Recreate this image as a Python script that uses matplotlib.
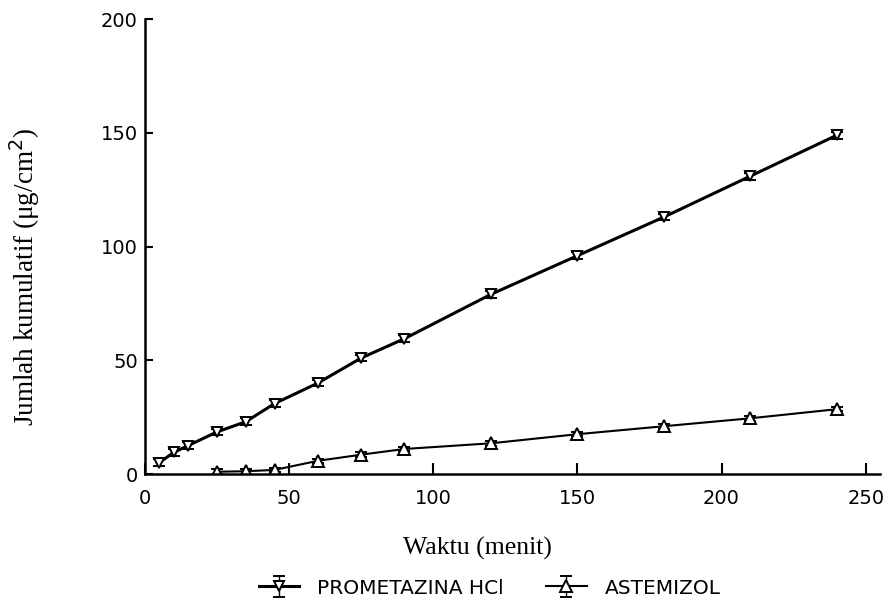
import matplotlib
matplotlib.use("Agg")
import matplotlib.pyplot as plt

# ── data ────────────────────────────────────────────────────────────────────
waktu_prom = [5, 10, 15, 25, 35, 45, 60, 75, 90, 120, 150, 180, 210, 240]
jumlah_prom = [5.0, 9.5, 12.5, 18.5, 23.0, 31.0, 40.0, 51.0, 59.5, 79.0, 96.0, 113.0, 131.0, 149.0]

waktu_aste = [25, 35, 45, 60, 75, 90, 120, 150, 180, 210, 240]
jumlah_aste = [1.0, 1.2, 1.8, 5.8, 8.5, 11.0, 13.5, 17.5, 21.0, 24.5, 28.5]

x_ticks = [0, 50, 100, 150, 200, 250]
y_ticks = [0, 50, 100, 150, 200]

# ── plot ────────────────────────────────────────────────────────────────────
fig = plt.figure(figsize=(8.89, 6.0), dpi=100)
ax = fig.add_axes([0.163, 0.21, 0.827, 0.758])

ax.errorbar(waktu_prom, jumlah_prom, yerr=1.5, color="black", lw=2.2,
            marker="v", ms=7, mfc="white", mec="black", mew=1.4,
            capsize=4, capthick=1.4, elinewidth=1.0,
            label="PROMETAZINA HCl")
ax.errorbar(waktu_aste, jumlah_aste, yerr=1.0, color="black", lw=1.5,
            marker="^", ms=8, mfc="white", mec="black", mew=1.4,
            capsize=4, capthick=1.4, elinewidth=1.0,
            label="ASTEMIZOL")

ax.set_xlim(0, 255)
ax.set_ylim(0, 200)
ax.set_xticks(x_ticks)
ax.set_yticks(y_ticks)

for s in ["top", "right"]:
    ax.spines[s].set_visible(False)
for s in ["left", "bottom"]:
    ax.spines[s].set_linewidth(1.8)

ax.tick_params(axis="both", direction="in", width=1.5, labelsize=14)
ax.tick_params(axis="x", length=8, pad=11)
ax.tick_params(axis="y", length=6, pad=5)
for lab in ax.get_xticklabels() + ax.get_yticklabels():
    lab.set_family("DejaVu Sans")

ax.set_xlabel("Waktu (menit)", family="Liberation Serif", fontsize=18.5)
ax.xaxis.set_label_coords(0.452, -0.138)
ax.set_ylabel("Jumlah kumulatif (μg/cm$^2$)", family="Liberation Serif", fontsize=19.5)
ax.yaxis.label.set_verticalalignment("center")
ax.yaxis.set_label_coords(-0.163, 0.433)

fig.legend(loc="center", bbox_to_anchor=(0.551, 0.02), ncol=2, frameon=False,
           prop={"family": "DejaVu Sans", "size": 14.5},
           handlelength=2.0, handletextpad=0.9, columnspacing=2.1)

fig.savefig("out.png", dpi=100)
